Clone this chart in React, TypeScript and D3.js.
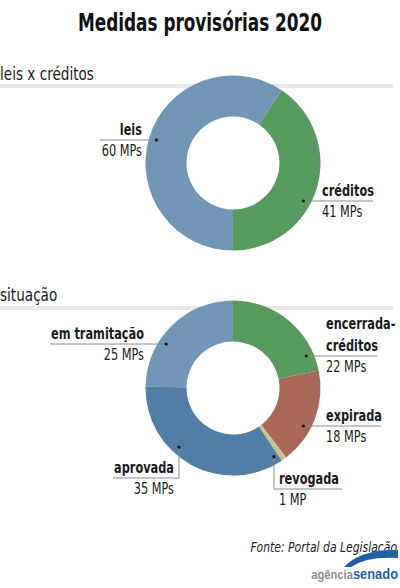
import * as d3 from 'd3';
import type { ReactNode } from 'react';

// leis x créditos
const tipoLabels = ['leis', 'créditos'];
const tipoValues = [60, 41];

// situação
const situacaoLabels = ['encerrada-créditos', 'expirada', 'revogada', 'aprovada', 'em tramitação'];
const situacaoValues = [22, 18, 1, 35, 25];

const COLORS: Record<string, string> = {
  'leis': '#7296b5',
  'créditos': '#589b5f',
  'encerrada-créditos': '#589b5f',
  'expirada': '#a96858',
  'revogada': '#c9c48b',
  'aprovada': '#517ea5',
  'em tramitação': '#7296b5',
};

const FONT = "'DejaVu Sans Condensed', 'DejaVu Sans', sans-serif";
const SX = 0.84; // squeeze to mimic the condensed face of the original

const CX = 233;
const R_OUT = 87.5;
const R_IN = 46.5;
const R_DOT = 80;

// condensed text helper
function T({ x, y, anchor = 'start', size = 15, bold = false, italic = false, sx = SX, fill = '#1a1a1a', children }: {
  x: number; y: number; anchor?: 'start' | 'middle' | 'end'; size?: number; bold?: boolean;
  italic?: boolean; sx?: number; fill?: string; children: ReactNode;
}) {
  return (
    <text transform={`translate(${x},${y}) scale(${sx},1)`} textAnchor={anchor} fontFamily={FONT}
      fontSize={size} fontWeight={bold ? 'bold' : 'normal'} fontStyle={italic ? 'italic' : 'normal'} fill={fill}>
      {children}
    </text>
  );
}

type Note = {
  key: string;
  lines: string[];
  side: 'left' | 'right';
  lineY: number;   // y of the horizontal leader
  lineEnd: number; // far end of the horizontal leader
  textX: number;
  elbowX?: number; // vertical leader from the ring down to lineY
};

function Donut({ cy, labels, values, start, notes }: {
  cy: number; labels: string[]; values: number[]; start: number; notes: Note[];
}) {
  const pie = d3.pie<number>().sort(null).startAngle(start).endAngle(start + 2 * Math.PI);
  const arcs = pie(values);
  const arc = d3.arc<d3.PieArcDatum<number>>().innerRadius(R_IN).outerRadius(R_OUT);

  return (
    <g>
      <g transform={`translate(${CX},${cy})`}>
        {arcs.map((a, i) => (
          <path key={labels[i]} d={arc(a) || ''} fill={COLORS[labels[i]]} />
        ))}
      </g>
      {notes.map((n) => {
        const idx = labels.indexOf(n.key);
        let dotX: number, dotY: number, d: string;
        if (n.elbowX !== undefined) {
          dotX = n.elbowX;
          dotY = cy + Math.sqrt(R_DOT * R_DOT - (dotX - CX) ** 2);
          d = `M${dotX},${dotY}V${n.lineY}H${n.lineEnd}`;
        } else {
          const dy = n.lineY - cy;
          const dx = Math.sqrt(R_DOT * R_DOT - dy * dy);
          dotX = n.side === 'left' ? CX - dx : CX + dx;
          dotY = n.lineY;
          d = `M${dotX},${dotY}H${n.lineEnd}`;
        }
        const anchor = n.side === 'left' ? 'end' : 'start';
        const value = values[idx];
        return (
          <g key={n.key}>
            <path d={d} fill="none" stroke="#8c8c8c" strokeWidth={1} />
            <circle cx={dotX} cy={dotY} r={1.6} fill="#111" />
            {n.lines.map((t, j) => (
              <T key={t} x={n.textX} y={n.lineY - 5 - (n.lines.length - 1 - j) * 22} anchor={anchor} bold>{t}</T>
            ))}
            <T x={n.textX} y={n.lineY + 16} anchor={anchor}>{`${value} ${value === 1 ? 'MP' : 'MPs'}`}</T>
          </g>
        );
      })}
    </g>
  );
}

const tipoNotes: Note[] = [
  { key: 'leis', lines: ['leis'], side: 'left', lineY: 140, lineEnd: 100, textX: 142 },
  { key: 'créditos', lines: ['créditos'], side: 'right', lineY: 201, lineEnd: 373, textX: 322 },
];

const situacaoNotes: Note[] = [
  { key: 'em tramitação', lines: ['em tramitação'], side: 'left', lineY: 344, lineEnd: 50, textX: 144 },
  { key: 'encerrada-créditos', lines: ['encerrada-', 'créditos'], side: 'right', lineY: 356, lineEnd: 377, textX: 326 },
  { key: 'expirada', lines: ['expirada'], side: 'right', lineY: 426, lineEnd: 381, textX: 326 },
  { key: 'aprovada', lines: ['aprovada'], side: 'left', lineY: 478, lineEnd: 113, textX: 174, elbowX: 179 },
  { key: 'revogada', lines: ['revogada'], side: 'right', lineY: 489, lineEnd: 342, textX: 279, elbowX: 274 },
];

export default function App() {
  return (
    <svg width={400} height={588} style={{ position: 'absolute', left: 0, top: 0, background: '#fff' }}>
      <T x={200} y={31} anchor="middle" size={25} bold sx={0.75} fill="#111">Medidas provisórias 2020</T>

      <rect x={0} y={84} width={393} height={4} fill="#e9e9e9" />
      <T x={0} y={80} size={18}>leis x créditos</T>
      <Donut cy={163} labels={tipoLabels} values={tipoValues} start={Math.PI} notes={tipoNotes} />

      <rect x={0} y={306} width={393} height={4} fill="#e9e9e9" />
      <T x={0} y={301} size={18}>situação</T>
      <Donut cy={388} labels={situacaoLabels} values={situacaoValues} start={0} notes={situacaoNotes} />

      <T x={397} y={552} anchor="end" size={14} italic sx={0.86} fill="#222">Fonte: Portal da Legislação</T>

      <g>
        <path d="M344,567 Q361,549 398,550 L398,558 Q367,556 351,567 Z" fill="#1f5fa6" />
        <text transform="translate(398,579) scale(0.86,1)" textAnchor="end"
          fontFamily="'Liberation Sans', sans-serif" fontWeight="bold">
          <tspan fontSize={13} fill="#8f8f8f">agência</tspan>
          <tspan fontSize={15} fill="#1f5fa6">senado</tspan>
        </text>
      </g>
    </svg>
  );
}
